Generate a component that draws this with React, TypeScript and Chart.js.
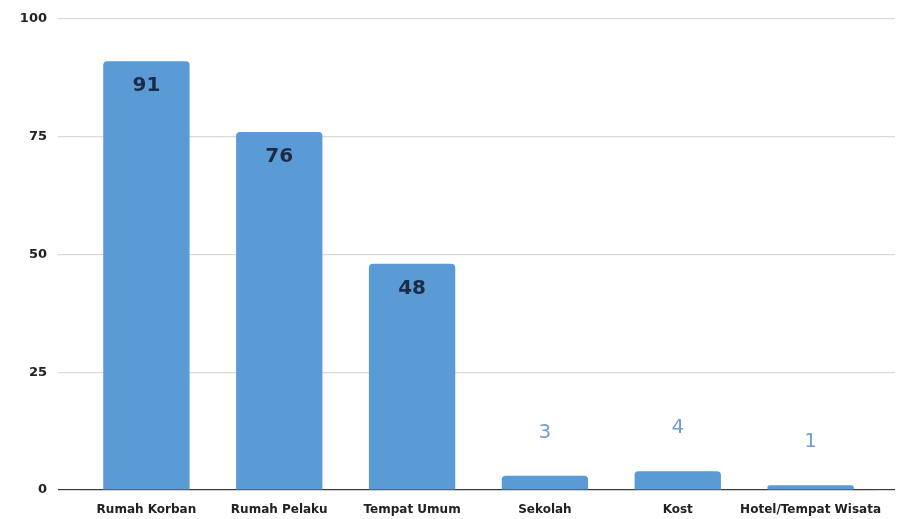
import React, { useEffect, useRef } from "react";
import { Chart, registerables } from "chart.js";

Chart.register(...registerables);

const categories = ["Rumah Korban", "Rumah Pelaku", "Tempat Umum", "Sekolah", "Kost", "Hotel/Tempat Wisata"];
const values = [91, 76, 48, 3, 4, 1];
const yMin = 0;
const yMax = 100;
const yStep = 25;

const BAR = "#5b9bd5";
const GRID = "#d9d9d9";
const ZERO = "#3a3a3a";

const gridColor = (ctx: any) => (ctx.tick && ctx.tick.value === 0 ? ZERO : GRID);

const valueLabels = {
  id: "valueLabels",
  afterDatasetsDraw(chart: any) {
    const ctx = chart.ctx;
    const meta = chart.getDatasetMeta(0);
    const data = chart.data.datasets[0].data as number[];
    ctx.save();
    ctx.textAlign = "center";
    ctx.textBaseline = "middle";
    meta.data.forEach((el: any, i: number) => {
      const v = data[i];
      if (v > 20) {
        ctx.font = "bold 20px 'DejaVu Sans'";
        ctx.fillStyle = "#1c2b47";
        ctx.fillText(String(v), el.x, el.y + 25);
      } else {
        ctx.font = "20px 'DejaVu Sans'";
        ctx.fillStyle = "#6f9fd6";
        ctx.fillText(String(v), el.x, el.y - 43);
      }
    });
    ctx.restore();
  },
};

export default function App() {
  const ref = useRef<HTMLCanvasElement>(null);
  useEffect(() => {
    if (!ref.current) return;
    const chart = new Chart(ref.current, {
      type: "bar",
      data: {
        labels: categories,
        datasets: [
          {
            data: values,
            backgroundColor: BAR,
            borderRadius: 4,
            categoryPercentage: 1,
            barPercentage: 0.65,
            yAxisID: "y",
          },
        ],
      },
      options: {
        responsive: false,
        animation: false,
        devicePixelRatio: 1,
        layout: { padding: { top: 17, bottom: 0, left: 0, right: 0 } },
        plugins: { legend: { display: false }, tooltip: { enabled: false } },
        scales: {
          x: {
            grid: { display: false, drawTicks: false },
            border: { display: false },
            ticks: {
              padding: 13,
              color: "#222",
              font: { family: "'DejaVu Sans'", size: 12, weight: "bold" },
              maxRotation: 0,
              autoSkip: false,
            },
            afterFit: (s: any) => {
              s.height = 29;
            },
          },
          y: {
            min: yMin,
            max: yMax,
            ticks: {
              stepSize: yStep,
              padding: 11,
              color: "#222",
              font: { family: "'DejaVu Sans'", size: 13, weight: "bold" },
            },
            grid: { color: gridColor, tickLength: 22, lineWidth: 1.2 },
            border: { display: false },
            afterFit: (s: any) => {
              s.width = 80;
            },
          },
          y2: {
            position: "right",
            min: yMin,
            max: yMax,
            ticks: { stepSize: yStep, display: false },
            grid: { color: gridColor, tickLength: 18, drawOnChartArea: false, lineWidth: 1.2 },
            border: { display: false },
            afterFit: (s: any) => {
              s.width = 25;
            },
          },
        },
      },
      plugins: [valueLabels],
    });
    return () => chart.destroy();
  }, []);
  return (
    <div style={{ position: "absolute", left: 0, top: 0, width: 902, height: 519, background: "#fff" }}>
      <canvas ref={ref} width={902} height={519} />
    </div>
  );
}
